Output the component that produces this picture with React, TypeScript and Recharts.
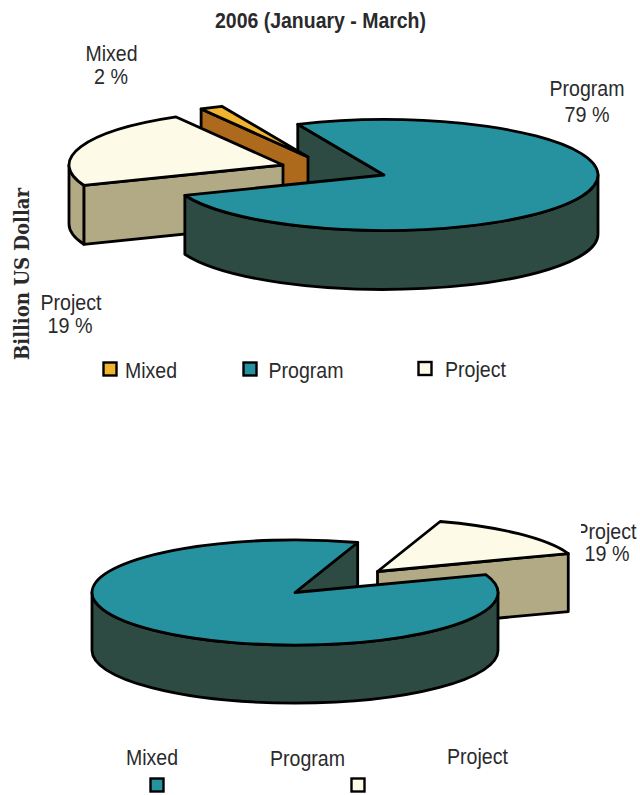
import React from 'react';
import { PieChart, Pie } from 'recharts';

// Shares of each aid type, in drawing order (far slices first, so nearer ones paint over them).
const firstNames = ['Mixed', 'Project', 'Program'];
const firstValues = [2, 19, 79];
const secondNames = ['Project', 'Program'];
const secondValues = [19, 81];

const legendNames = ['Mixed', 'Program', 'Project'];

const topColors: Record<string, string> = { Mixed: '#f0b42e', Program: '#26929f', Project: '#fdfae8' };
const sideColors: Record<string, string> = { Mixed: '#ad6a1c', Program: '#2d4b43', Project: '#b2aa85' };

const NARROW = '"Liberation Sans Narrow", "Liberation Sans", sans-serif';
const INK = '#2a2a2c';
const TILT = 0.259;

type Offset = { dx: number; dy: number };
type View = { depth: number; warpSize: number; warpPhase: number; exploded: Record<string, Offset> };
type Layer = 'backWalls' | 'body';

const firstView: View = {
  depth: 59,
  warpSize: 9.21,
  warpPhase: 182.95,
  exploded: { Mixed: { dx: -76, dy: -18 }, Project: { dx: -101, dy: -10 }, Program: { dx: 0, dy: 0 } },
};
const secondView: View = {
  depth: 58,
  warpSize: 10.5,
  warpPhase: -29.6,
  exploded: { Project: { dx: 82.5, dy: -21 }, Program: { dx: 0, dy: 0 } },
};

const rad = (d: number) => (d * Math.PI) / 180;

// Perspective foreshortening: slices look wider on the flanks of the tilted disc.
const foreshorten = (a: number, v: View) => a + v.warpSize * Math.sin(2 * rad(a - v.warpPhase));

// Draws a slice as an extruded elliptical wedge, using the angles the Pie computed.
// The undivided Program's cut face sits behind the exploded slices, so it gets its own layer.
const makeSlice = (view: View, layer: Layer) => (props: any) => {
  const name: string = props.name ?? props.payload?.name;
  const off = view.exploded[name] ?? { dx: 0, dy: 0 };
  const cx = props.cx + off.dx;
  const cy = props.cy + off.dy;
  const rx = props.outerRadius;
  const ry = rx * TILT;
  const d = view.depth;
  const t0 = foreshorten(props.startAngle, view);
  const t1 = foreshorten(props.endAngle, view);
  const pt = (t: number, drop = 0) => ({
    x: cx + rx * Math.cos(rad(t)),
    y: cy - ry * Math.sin(rad(t)) + drop,
  });
  const arc = (to: { x: number; y: number }, large: boolean, sweep: number) =>
    `A${rx} ${ry} 0 ${large ? 1 : 0} ${sweep} ${to.x} ${to.y}`;
  const wall = (t: number) => {
    const p = pt(t);
    return `M${cx} ${cy}L${p.x} ${p.y}L${p.x} ${p.y + d}L${cx} ${cy + d}Z`;
  };
  const edge = { stroke: '#000', strokeWidth: 2.8, strokeLinejoin: 'round' as const };

  const walls = [
    Math.sin(rad(t0 - 90)) < 0 ? wall(t0) : null,
    Math.sin(rad(t1 + 90)) < 0 ? wall(t1) : null,
  ].filter(Boolean) as string[];
  const wallPaths = walls.map((w) => <path key={w} d={w} fill={sideColors[name]} {...edge} />);

  const isBase = name === 'Program';
  if (layer === 'backWalls') return <g>{isBase ? wallPaths : null}</g>;

  // Outer rim: only the part of the arc on the near half of the ellipse shows.
  const rims: string[] = [];
  for (const [lo, hi] of [[180, 360], [540, 720]]) {
    const a = Math.max(t0, lo);
    const b = Math.min(t1, hi);
    if (b > a) {
      const pa = pt(a);
      const pb = pt(b);
      const pbd = pt(b, d);
      const pad = pt(a, d);
      const large = b - a > 180;
      rims.push(`M${pa.x} ${pa.y}${arc(pb, large, 0)}L${pbd.x} ${pbd.y}${arc(pad, large, 1)}Z`);
    }
  }

  const start = pt(t0);
  const end = pt(t1);
  const surface = `M${cx} ${cy}L${start.x} ${start.y}${arc(end, t1 - t0 > 180, 0)}Z`;
  return (
    <g>
      {!isBase && wallPaths}
      {rims.map((r) => (
        <path key={r} d={r} fill={sideColors[name]} {...edge} />
      ))}
      <path d={surface} fill={topColors[name]} {...edge} />
    </g>
  );
};

const rows = (names: string[], values: number[]) => names.map((name, i) => ({ name, value: values[i] }));

const firstPie = {
  data: rows(firstNames, firstValues),
  cx: 384,
  cy: 175,
  outerRadius: 214,
  startAngle: 121.5,
  endAngle: 481.5,
};
const secondPie = {
  data: rows(secondNames, secondValues),
  cx: 295,
  cy: 592.5,
  outerRadius: 203,
  startAngle: 9.7,
  endAngle: 369.7,
};

function Label({ x, y, children, width, clip }: { x: number; y: number; children: string; width: number; clip?: string }) {
  return (
    <text
      x={x}
      y={y}
      textAnchor="middle"
      fontFamily={NARROW}
      fontSize={22}
      fill={INK}
      textLength={width}
      lengthAdjust="spacingAndGlyphs"
      clipPath={clip}
    >
      {children}
    </text>
  );
}

function Swatch({ x, y, color }: { x: number; y: number; color: string }) {
  return <rect x={x} y={y} width={13} height={13} fill={color} stroke="#000" strokeWidth={2.4} />;
}

export default function App() {
  return (
    <div style={{ position: 'absolute', left: 0, top: 0, width: 640, height: 795, background: '#fff', overflow: 'hidden' }}>
      <PieChart width={640} height={795} margin={{ top: 0, right: 0, bottom: 0, left: 0 }}>
        <Pie {...firstPie} dataKey="value" nameKey="name" stroke="none" isAnimationActive={false} shape={makeSlice(firstView, 'backWalls')} />
        <Pie {...firstPie} dataKey="value" nameKey="name" stroke="none" isAnimationActive={false} shape={makeSlice(firstView, 'body')} />
        <Pie {...secondPie} dataKey="value" nameKey="name" stroke="none" isAnimationActive={false} shape={makeSlice(secondView, 'backWalls')} />
        <Pie {...secondPie} dataKey="value" nameKey="name" stroke="none" isAnimationActive={false} shape={makeSlice(secondView, 'body')} />
      </PieChart>
      <svg width={640} height={795} style={{ position: 'absolute', left: 0, top: 0, pointerEvents: 'none' }}>
        <defs>
          <clipPath id="rightEdge">
            <rect x={581} y={500} width={59} height={48} />
          </clipPath>
        </defs>
        <text
          x={320.5}
          y={28}
          textAnchor="middle"
          fontFamily={NARROW}
          fontWeight="bold"
          fontSize={22}
          fill={INK}
          textLength={211}
          lengthAdjust="spacingAndGlyphs"
        >
          2006 (January - March)
        </text>
        <text
          transform="translate(29 274) rotate(-90)"
          textAnchor="middle"
          fontFamily='"DejaVu Serif", serif'
          fontWeight="bold"
          fontSize={20}
          fill={INK}
          textLength={172}
          lengthAdjust="spacingAndGlyphs"
        >
          Billion US Dollar
        </text>

        <Label x={111.5} y={61} width={52}>Mixed</Label>
        <Label x={111} y={84} width={34}>2 %</Label>
        <Label x={587} y={96} width={75}>Program</Label>
        <Label x={587} y={122} width={45}>79 %</Label>
        <Label x={71} y={310} width={61}>Project</Label>
        <Label x={70} y={333} width={45}>19 %</Label>

        <Swatch x={103.5} y={362.5} color={topColors[legendNames[0]]} />
        <Swatch x={243.5} y={362.5} color={topColors[legendNames[1]]} />
        <Swatch x={418.5} y={362} color={topColors[legendNames[2]]} />
        <Label x={151} y={378} width={52}>{legendNames[0]}</Label>
        <Label x={306} y={378} width={75}>{legendNames[1]}</Label>
        <Label x={475.5} y={377} width={61}>{legendNames[2]}</Label>

        <Label x={606} y={539} width={61} clip="url(#rightEdge)">Project</Label>
        <Label x={607} y={561} width={45}>19 %</Label>

        <Label x={152} y={765} width={52}>{legendNames[0]}</Label>
        <Label x={307.5} y={766} width={75}>{legendNames[1]}</Label>
        <Label x={477.5} y={764} width={61}>{legendNames[2]}</Label>
        <Swatch x={150.5} y={778.5} color={topColors.Program} />
        <Swatch x={351.5} y={778.5} color={topColors.Project} />
      </svg>
    </div>
  );
}
